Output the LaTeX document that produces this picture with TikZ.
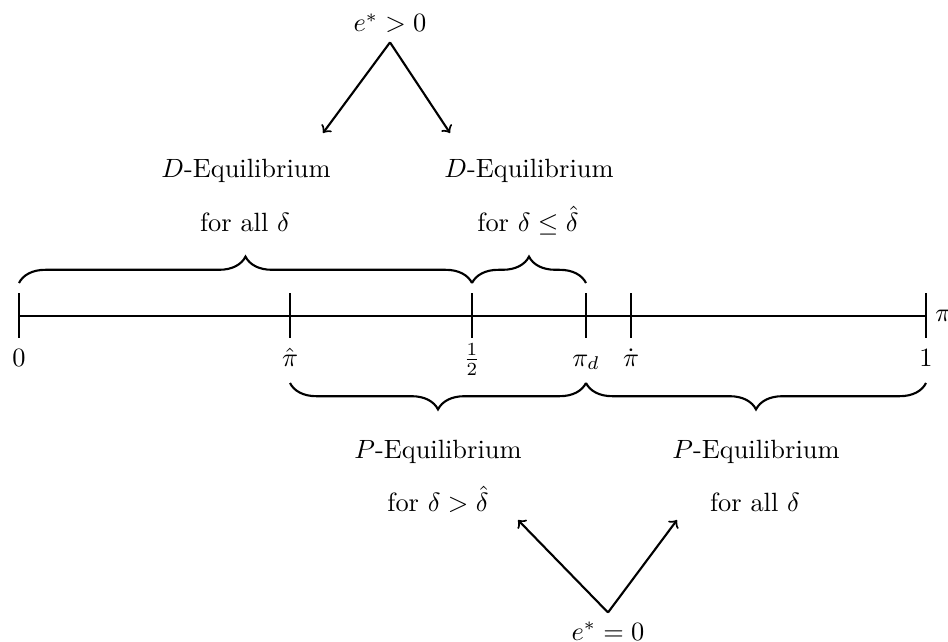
\documentclass[tikz,border=0pt]{standalone}
\usetikzlibrary{decorations.pathreplacing}
\begin{document}
\begin{tikzpicture}[x=0.3788pt,y=-0.3788pt,
  lbl/.style={anchor=base},
  thintick/.style={line width=0.4pt},
  boldtick/.style={thick},
  brc/.style={thick,decorate,decoration={brace,amplitude=10pt}},
  brcm/.style={thick,decorate,decoration={brace,amplitude=10pt,mirror}},
  arr/.style={thick,->}]
\useasboundingbox (0,0) rectangle (948,642);
% axis
\coordinate (a0) at (19,316);
\coordinate (a1) at (926,316);
\draw[thick] (a0) -- (a1);
\node[anchor=west] (pilab) at (a1) {$\pi$};
% ticks
\draw[thintick] (19,293) -- (19,338);
\draw[thintick] (472,293) -- (472,338);
\draw[thintick] (926,293) -- (926,338);
\draw[boldtick] (290,293) -- (290,338);
\draw[boldtick] (586,293) -- (586,338);
\draw[boldtick] (631,293) -- (631,338);
% tick labels
\node[lbl] (l0) at (19,366) {$0$};
\node[lbl] (lhat) at (290,366) {$\hat{\pi}$};
\node[lbl] (lhalf) at (472,366) {$\frac{1}{2}$};
\node[lbl] (ld) at (586,366) {$\pi_d$};
\node[lbl] (ldot) at (631,366) {$\dot{\pi}$};
\node[lbl] (l1) at (926,366) {$1$};
% upper braces
\draw[brc] (19,283) -- (472,283);
\draw[brc] (472,283) -- (586,283);
% lower braces
\draw[brcm] (290,383) -- (586,383);
\draw[brcm] (586,383) -- (926,383);
% upper texts
\node[lbl] (d1) at (246,177) {$D$-Equilibrium};
\node[lbl] (d1b) at (245,231) {for all $\delta$};
\node[lbl] (d2) at (529,177) {$D$-Equilibrium};
\node[lbl] (d2b) at (528,231) {for $\delta \le \hat{\delta}$};
% lower texts
\node[lbl] (p1) at (438,458) {$P$-Equilibrium};
\node[lbl] (p1b) at (438,511) {for $\delta > \hat{\delta}$};
\node[lbl] (p2) at (756,458) {$P$-Equilibrium};
\node[lbl] (p2b) at (755,511) {for all $\delta$};
% e* nodes
\node[lbl] (etop) at (390,32) {$e^{*} > 0$};
\node[lbl] (ebot) at (608,640) {$e^{*} = 0$};
\coordinate (tl) at (323,133);
\coordinate (tr) at (450,133);
\coordinate (bl) at (518,520);
\coordinate (br) at (677,520);
\draw[arr] (etop.south) -- (tl);
\draw[arr] (etop.south) -- (tr);
\draw[arr] (ebot.north) -- (bl);
\draw[arr] (ebot.north) -- (br);
\end{tikzpicture}
\end{document}
